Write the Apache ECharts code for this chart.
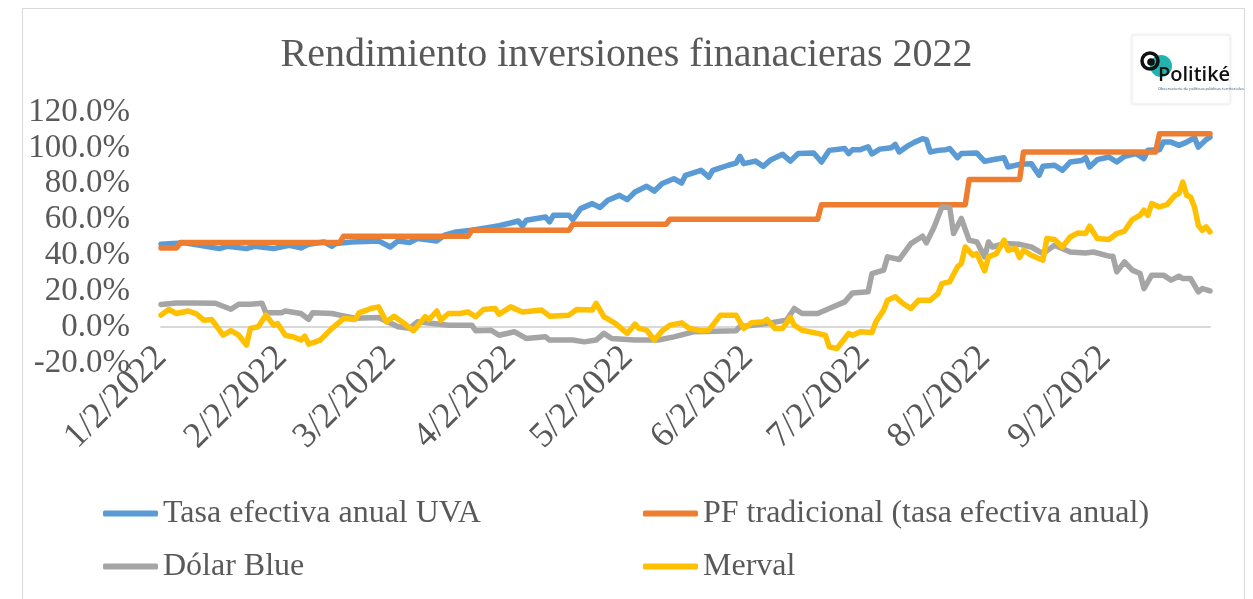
<!DOCTYPE html>
<html>
<head>
<meta charset="utf-8">
<script src="https://cdn.jsdelivr.net/npm/echarts@6/dist/echarts.min.js"></script>
<style>
  html, body { margin: 0; padding: 0; background: #fff; }
  #chart { width: 1253px; height: 599px; }
</style>
</head>
<body>
<div id="chart"></div>
<script>
// tick labels of the date axis (m/d/yyyy)
const tickDates = ['2022-01-02', '2022-02-02', '2022-03-02', '2022-04-02', '2022-05-02',
  '2022-06-02', '2022-07-02', '2022-08-02', '2022-09-02'];
const tickLabels = ['1/2/2022', '2/2/2022', '3/2/2022', '4/2/2022', '5/2/2022',
  '6/2/2022', '7/2/2022', '8/2/2022', '9/2/2022'];
const firstDate = '2022-01-02';
const lastDate = '2022-09-29';

const seriesNames = ['Tasa efectiva anual UVA', 'PF tradicional (tasa efectiva anual)', 'Dólar Blue', 'Merval'];

// rendimiento acumulado, %
const uva = [
  ['2022-01-02', 46.2], ['2022-01-05', 46.6], ['2022-01-08', 47.0], ['2022-01-12', 45.7],
  ['2022-01-17', 43.8], ['2022-01-19', 45.1], ['2022-01-24', 43.8], ['2022-01-26', 45.1],
  ['2022-01-31', 43.8], ['2022-02-04', 45.7], ['2022-02-07', 44.2], ['2022-02-09', 46.2],
  ['2022-02-13', 47.5], ['2022-02-15', 45.1], ['2022-02-16', 46.6], ['2022-02-20', 47.5],
  ['2022-02-27', 48.1], ['2022-03-02', 44.7], ['2022-03-04', 48.1], ['2022-03-07', 47.2],
  ['2022-03-09', 49.4], ['2022-03-14', 48.1], ['2022-03-16', 51.3], ['2022-03-19', 53.1],
  ['2022-03-23', 54.0], ['2022-03-27', 55.5], ['2022-03-30', 56.6], ['2022-04-02', 58.1],
  ['2022-04-04', 59.2], ['2022-04-05', 56.3], ['2022-04-06', 59.6], ['2022-04-11', 61.4],
  ['2022-04-12', 58.7], ['2022-04-13', 62.4], ['2022-04-17', 62.4], ['2022-04-18', 60.0],
  ['2022-04-20', 66.1], ['2022-04-23', 68.9], ['2022-04-25', 66.7], ['2022-04-27', 70.8],
  ['2022-04-30', 73.5], ['2022-05-02', 71.1], ['2022-05-04', 75.4], ['2022-05-07', 78.6],
  ['2022-05-09', 75.9], ['2022-05-11', 80.1], ['2022-05-14', 82.8], ['2022-05-16', 80.4],
  ['2022-05-17', 84.7], ['2022-05-21', 87.5], ['2022-05-23', 83.7], ['2022-05-24', 87.5],
  ['2022-05-28', 90.3], ['2022-05-30', 91.5], ['2022-05-31', 95.3], ['2022-06-01', 91.2],
  ['2022-06-04', 92.6], ['2022-06-06', 89.7], ['2022-06-08', 93.4], ['2022-06-11', 96.4],
  ['2022-06-13', 92.6], ['2022-06-15', 96.8], ['2022-06-19', 97.1], ['2022-06-21', 92.1],
  ['2022-06-23', 98.6], ['2022-06-27', 99.6], ['2022-06-28', 96.8], ['2022-06-29', 99.0],
  ['2022-07-01', 99.0], ['2022-07-03', 100.6], ['2022-07-04', 96.6], ['2022-07-06', 99.3],
  ['2022-07-09', 100.1], ['2022-07-10', 101.9], ['2022-07-11', 97.7], ['2022-07-13', 100.8],
  ['2022-07-15', 103.2], ['2022-07-17', 105.1], ['2022-07-18', 104.6], ['2022-07-19', 97.7],
  ['2022-07-21', 98.6], ['2022-07-23', 99.0], ['2022-07-24', 99.6], ['2022-07-26', 94.5],
  ['2022-07-27', 96.8], ['2022-07-31', 97.1], ['2022-08-02', 92.5], ['2022-08-04', 93.4],
  ['2022-08-07', 94.5], ['2022-08-08', 89.3], ['2022-08-11', 90.8], ['2022-08-14', 91.2],
  ['2022-08-16', 84.7], ['2022-08-17', 89.7], ['2022-08-20', 90.3], ['2022-08-22', 87.5],
  ['2022-08-24', 92.1], ['2022-08-27', 93.0], ['2022-08-28', 94.5], ['2022-08-29', 89.3],
  ['2022-08-31', 93.4], ['2022-09-03', 94.9], ['2022-09-05', 92.1], ['2022-09-07', 95.3],
  ['2022-09-10', 96.8], ['2022-09-12', 94.0], ['2022-09-13', 98.6], ['2022-09-16', 99.0],
  ['2022-09-17', 103.2], ['2022-09-19', 103.2], ['2022-09-21', 101.4], ['2022-09-23', 103.2],
  ['2022-09-25', 105.7], ['2022-09-26', 100.4], ['2022-09-28', 104.6], ['2022-09-29', 106.0]
];

const pf = [
  ['2022-01-02', 44.2], ['2022-01-06', 44.2], ['2022-01-07', 47.2], ['2022-02-17', 47.2],
  ['2022-02-18', 50.7], ['2022-03-22', 50.7], ['2022-03-23', 54.0], ['2022-04-17', 54.0],
  ['2022-04-18', 57.4], ['2022-05-12', 57.4], ['2022-05-13', 60.2], ['2022-06-20', 60.2],
  ['2022-06-21', 68.3], ['2022-07-28', 68.3], ['2022-07-29', 82.4], ['2022-08-11', 82.4],
  ['2022-08-12', 97.7], ['2022-09-15', 97.7], ['2022-09-16', 107.9], ['2022-09-29', 107.9]
];

const dolarBlue = [
  ['2022-01-02', 12.6], ['2022-01-06', 13.5], ['2022-01-10', 13.5], ['2022-01-16', 13.3],
  ['2022-01-20', 10.0], ['2022-01-22', 12.8], ['2022-01-25', 12.8], ['2022-01-28', 13.3],
  ['2022-01-29', 8.0], ['2022-02-02', 8.0], ['2022-02-03', 9.0], ['2022-02-07', 7.6],
  ['2022-02-09', 4.4], ['2022-02-10', 8.0], ['2022-02-15', 7.6], ['2022-02-17', 6.7],
  ['2022-02-21', 5.0], ['2022-02-27', 5.4], ['2022-03-04', 0.2], ['2022-03-07', -0.7],
  ['2022-03-09', 3.0], ['2022-03-13', 2.0], ['2022-03-17', 1.1], ['2022-03-23', 1.1],
  ['2022-03-24', -2.0], ['2022-03-28', -1.7], ['2022-03-30', -4.5], ['2022-04-03', -2.6],
  ['2022-04-06', -6.3], ['2022-04-11', -5.4], ['2022-04-12', -7.2], ['2022-04-18', -7.2],
  ['2022-04-21', -8.2], ['2022-04-24', -7.2], ['2022-04-26', -3.5], ['2022-04-28', -6.3],
  ['2022-05-04', -7.2], ['2022-05-10', -7.2], ['2022-05-14', -5.4], ['2022-05-19', -2.6],
  ['2022-05-30', -2.0], ['2022-05-31', 0.2], ['2022-06-07', 2.0], ['2022-06-12', 3.9],
  ['2022-06-14', 10.4], ['2022-06-16', 7.6], ['2022-06-20', 7.6], ['2022-06-23', 10.4],
  ['2022-06-27', 14.1], ['2022-06-29', 19.1], ['2022-07-03', 19.7], ['2022-07-04', 29.9],
  ['2022-07-07', 31.8], ['2022-07-08', 39.2], ['2022-07-11', 37.7], ['2022-07-14', 46.6],
  ['2022-07-17', 50.7], ['2022-07-18', 47.0], ['2022-07-20', 55.9], ['2022-07-22', 67.0],
  ['2022-07-24', 66.7], ['2022-07-25', 52.2], ['2022-07-27', 60.6], ['2022-07-29', 48.5],
  ['2022-07-31', 47.5], ['2022-08-02', 39.2], ['2022-08-03', 47.5], ['2022-08-04', 44.7],
  ['2022-08-07', 46.6], ['2022-08-11', 46.2], ['2022-08-14', 44.7], ['2022-08-17', 41.0],
  ['2022-08-20', 45.7], ['2022-08-24', 41.9], ['2022-08-28', 41.4], ['2022-08-30', 41.9],
  ['2022-09-03', 39.6], ['2022-09-04', 39.6], ['2022-09-05', 30.8], ['2022-09-07', 36.4],
  ['2022-09-09', 31.8], ['2022-09-11', 29.9], ['2022-09-12', 21.5], ['2022-09-14', 29.0],
  ['2022-09-17', 29.0], ['2022-09-19', 26.2], ['2022-09-21', 28.4], ['2022-09-22', 27.1],
  ['2022-09-24', 27.1], ['2022-09-26', 19.7], ['2022-09-27', 21.5], ['2022-09-29', 20.2]
];

const merval = [
  ['2022-01-02', 6.7], ['2022-01-04', 9.8], ['2022-01-06', 7.6], ['2022-01-09', 9.0],
  ['2022-01-11', 7.6], ['2022-01-13', 3.9], ['2022-01-15', 4.3], ['2022-01-18', -4.5],
  ['2022-01-20', -2.0], ['2022-01-22', -4.5], ['2022-01-24', -10.0], ['2022-01-25', -0.7],
  ['2022-01-27', 0.2], ['2022-01-29', 6.7], ['2022-01-31', 1.1], ['2022-02-01', 2.0],
  ['2022-02-03', -4.5], ['2022-02-05', -5.4], ['2022-02-07', -7.2], ['2022-02-08', -5.0],
  ['2022-02-09', -9.5], ['2022-02-12', -7.2], ['2022-02-15', -0.7], ['2022-02-18', 4.8],
  ['2022-02-21', 4.3], ['2022-02-22', 8.0], ['2022-02-25', 10.4], ['2022-02-27', 11.3],
  ['2022-03-01', 3.0], ['2022-03-03', 6.1], ['2022-03-05', 3.0], ['2022-03-08', -2.0],
  ['2022-03-11', 5.8], ['2022-03-12', 4.3], ['2022-03-14', 9.0], ['2022-03-15', 3.9],
  ['2022-03-17', 7.6], ['2022-03-20', 7.6], ['2022-03-22', 8.5], ['2022-03-24', 5.8],
  ['2022-03-26', 9.8], ['2022-03-29', 10.4], ['2022-03-30', 7.2], ['2022-04-02', 11.3],
  ['2022-04-05', 8.5], ['2022-04-10', 9.5], ['2022-04-12', 6.1], ['2022-04-17', 6.7],
  ['2022-04-19', 9.8], ['2022-04-23', 9.5], ['2022-04-24', 13.2], ['2022-04-26', 5.8],
  ['2022-04-29', 2.0], ['2022-05-02', -3.5], ['2022-05-04', 1.7], ['2022-05-05', -0.7],
  ['2022-05-07', -1.7], ['2022-05-09', -7.2], ['2022-05-11', -2.0], ['2022-05-13', 1.1],
  ['2022-05-16', 2.4], ['2022-05-18', -0.7], ['2022-05-21', -2.0], ['2022-05-23', -1.7],
  ['2022-05-26', 6.7], ['2022-05-30', 6.7], ['2022-06-01', -0.7], ['2022-06-03', 2.4],
  ['2022-06-06', 3.0], ['2022-06-07', 4.3], ['2022-06-09', -0.7], ['2022-06-11', -0.7],
  ['2022-06-13', 5.4], ['2022-06-14', 1.1], ['2022-06-16', -1.7], ['2022-06-20', -3.5],
  ['2022-06-22', -4.5], ['2022-06-23', -11.0], ['2022-06-25', -11.9], ['2022-06-28', -3.5],
  ['2022-06-29', -4.5], ['2022-07-01', -2.6], ['2022-07-04', -3.0], ['2022-07-05', 3.0],
  ['2022-07-07', 9.5], ['2022-07-08', 15.0], ['2022-07-10', 16.9], ['2022-07-12', 13.2],
  ['2022-07-14', 10.4], ['2022-07-16', 15.0], ['2022-07-19', 15.0], ['2022-07-21', 18.8],
  ['2022-07-22', 24.3], ['2022-07-24', 25.3], ['2022-07-26', 33.6], ['2022-07-27', 35.5],
  ['2022-07-28', 44.7], ['2022-07-30', 40.1], ['2022-07-31', 41.0], ['2022-08-02', 31.4],
  ['2022-08-03', 39.2], ['2022-08-05', 41.0], ['2022-08-07', 48.5], ['2022-08-08', 42.9],
  ['2022-08-10', 43.8], ['2022-08-11', 38.8], ['2022-08-12', 42.9], ['2022-08-14', 40.1],
  ['2022-08-17', 37.3], ['2022-08-18', 49.4], ['2022-08-20', 48.9], ['2022-08-22', 44.7],
  ['2022-08-24', 50.3], ['2022-08-26', 52.5], ['2022-08-28', 52.2], ['2022-08-29', 56.3],
  ['2022-08-31', 49.4], ['2022-09-03', 48.9], ['2022-09-05', 52.2], ['2022-09-07', 53.6],
  ['2022-09-09', 60.0], ['2022-09-11', 62.4], ['2022-09-12', 65.2], ['2022-09-13', 62.4],
  ['2022-09-14', 68.9], ['2022-09-16', 67.0], ['2022-09-18', 68.5], ['2022-09-20', 73.5],
  ['2022-09-21', 74.5], ['2022-09-22', 80.9], ['2022-09-23', 73.5], ['2022-09-24', 72.6],
  ['2022-09-25', 67.0], ['2022-09-26', 56.8], ['2022-09-27', 54.0], ['2022-09-28', 55.9],
  ['2022-09-29', 53.1]
];

const colors = ['#5B9BD5', '#ED7D31', '#A5A5A5', '#FFC000'];
const serif = "'Liberation Serif', 'DejaVu Serif', serif";
const gray = '#595959';

// the x axis counts days from the first date, like Excel's date axis
const DAY = 86400000;
const t0 = Date.UTC(2022, 0, 2);
function dayOf(s) {
  const p = s.split('-');
  return Math.round((Date.UTC(+p[0], +p[1] - 1, +p[2]) - t0) / DAY);
}
const toDays = arr => arr.map(d => [dayOf(d[0]), d[1]]);
const tickDays = tickDates.map(dayOf);

const chart = echarts.init(document.getElementById('chart'));

function lineSeries(name, data, color) {
  return {
    name: name,
    type: 'line',
    data: toDays(data),
    showSymbol: false,
    symbol: 'none',
    color: color,
    lineStyle: { width: 5.5, color: color, cap: 'round', join: 'round' },
    emphasis: { disabled: true }
  };
}

function legendBlock(names, left) {
  return {
    data: names,
    orient: 'vertical',
    left: left,
    top: 497,
    padding: 0,
    itemWidth: 55,
    itemHeight: 6,
    itemGap: 20,
    icon: 'roundRect',
    textStyle: { fontFamily: serif, fontSize: 32, color: gray, lineHeight: 33 }
  };
}

chart.setOption({
  backgroundColor: '#fff',
  animation: false,
  title: {
    text: 'Rendimiento inversiones finanacieras 2022',
    left: 'center',
    top: 30,
    textStyle: { fontFamily: serif, fontSize: 40, fontWeight: 'normal', color: gray }
  },
  legend: [
    legendBlock([seriesNames[0], seriesNames[2]], 103),
    legendBlock([seriesNames[1], seriesNames[3]], 643)
  ],
  grid: { left: 161, right: 43, top: 112, bottom: 236, containLabel: false },
  xAxis: {
    type: 'value',
    min: dayOf(firstDate),
    max: dayOf(lastDate),
    axisLine: { show: true, onZero: true, lineStyle: { color: '#d9d9d9', width: 2 } },
    axisTick: { show: false },
    splitLine: { show: false },
    axisLabel: {
      customValues: tickDays,
      rotate: 45,
      margin: -11,
      fontFamily: serif,
      fontSize: 36,
      color: gray,
      formatter: function (val) {
        const i = tickDays.indexOf(Math.round(val));
        return i >= 0 ? tickLabels[i] : '';
      }
    }
  },
  yAxis: {
    type: 'value',
    min: -20,
    max: 120,
    interval: 20,
    axisLine: { show: false },
    axisTick: { show: false },
    splitLine: { show: false },
    axisLabel: {
      margin: 31,
      fontFamily: serif,
      fontSize: 33,
      color: gray,
      formatter: v => v.toFixed(1) + '%'
    }
  },
  series: [
    lineSeries(seriesNames[0], uva, colors[0]),
    lineSeries(seriesNames[1], pf, colors[1]),
    lineSeries(seriesNames[2], dolarBlue, colors[2]),
    lineSeries(seriesNames[3], merval, colors[3])
  ],
  graphic: [
    { type: 'rect', shape: { x: 22.5, y: 8.5, width: 1222, height: 600 },
      style: { fill: 'none', stroke: '#d9d9d9', lineWidth: 1 }, silent: true },
    // logo Politiké
    { type: 'rect', shape: { x: 1132, y: 35, width: 98, height: 69 },
      style: { fill: '#fff', stroke: '#f0f0f0', lineWidth: 1, shadowBlur: 3, shadowColor: 'rgba(0,0,0,0.08)' }, silent: true },
    { type: 'circle', shape: { cx: 1161, cy: 66, r: 11 }, style: { fill: '#22b3b0' }, silent: true },
    { type: 'circle', shape: { cx: 1150, cy: 61, r: 8 }, style: { fill: 'none', stroke: '#111', lineWidth: 3.5 }, silent: true },
    { type: 'circle', shape: { cx: 1151, cy: 62, r: 3.8 }, style: { fill: '#111' }, silent: true },
    { type: 'text', x: 1158, y: 85, silent: true,
      style: { text: 'Politiké', fill: '#111', fontFamily: "'Open Sans', 'Noto Sans', sans-serif",
        fontSize: 20, fontWeight: 600, verticalAlign: 'bottom' } },
    { type: 'text', x: 1158, y: 87, silent: true,
      style: { text: 'Observatorio de políticas públicas territoriales', fill: '#1f4e79',
        fontFamily: "'Open Sans', sans-serif", fontSize: 4, verticalAlign: 'top' } }
  ]
});
</script>
</body>
</html>
